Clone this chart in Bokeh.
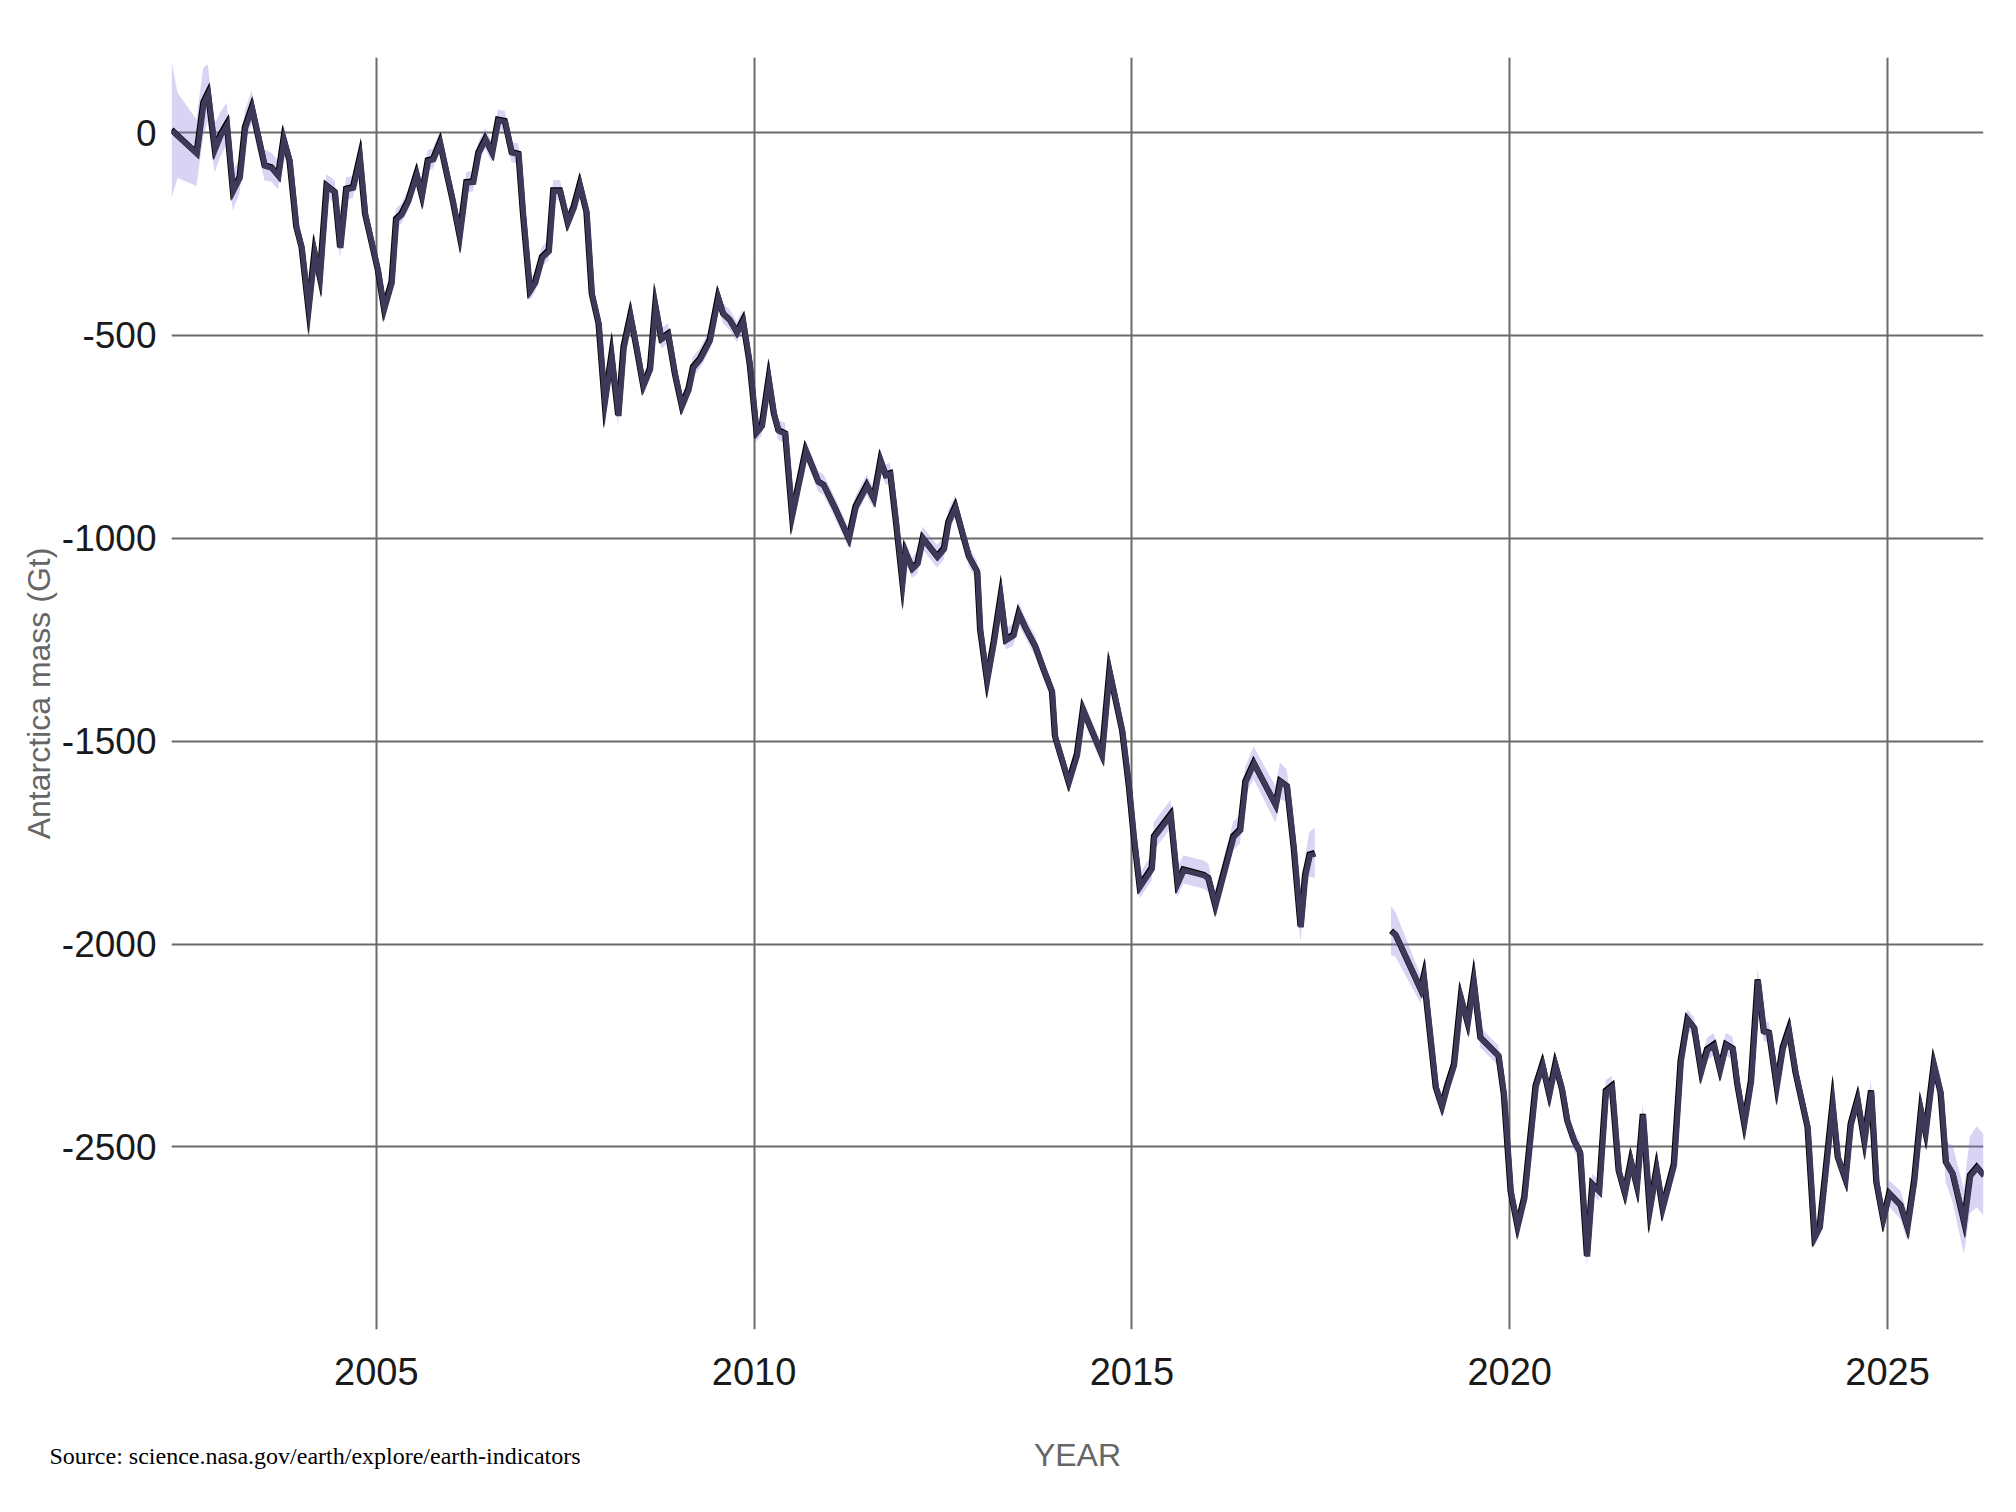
import numpy as np
from bokeh.plotting import figure
from bokeh.models import ColumnDataSource, FixedTicker, Range1d, Title
from bokeh.embed import file_html
from bokeh.resources import INLINE

# ---- data ----
grace_year = [2002.29, 2002.37, 2002.62, 2002.71, 2002.77, 2002.86, 2002.93, 2003.02, 2003.10, 2003.19,
              2003.26, 2003.35, 2003.52, 2003.61, 2003.70, 2003.77, 2003.85, 2003.94, 2004.01, 2004.10,
              2004.18, 2004.25, 2004.34, 2004.45, 2004.52, 2004.60, 2004.69, 2004.78, 2004.85, 2004.93,
              2005.02, 2005.10, 2005.20, 2005.26, 2005.33, 2005.42, 2005.53, 2005.60, 2005.68, 2005.75,
              2005.84, 2005.95, 2006.01, 2006.10, 2006.19, 2006.28, 2006.35, 2006.44, 2006.53, 2006.61,
              2006.70, 2006.79, 2006.88, 2006.94, 2007.03, 2007.10, 2007.19, 2007.28, 2007.34, 2007.43,
              2007.53, 2007.61, 2007.69, 2007.78, 2007.85, 2007.94, 2008.02, 2008.11, 2008.20, 2008.27,
              2008.36, 2008.44, 2008.53, 2008.62, 2008.69, 2008.77, 2008.86, 2008.95, 2009.04, 2009.13,
              2009.19, 2009.28, 2009.41, 2009.52, 2009.59, 2009.68, 2009.77, 2009.85, 2009.94, 2010.03,
              2010.10, 2010.19, 2010.26, 2010.32, 2010.41, 2010.50, 2010.68, 2010.77, 2010.85, 2010.92,
              2011.07, 2011.25, 2011.34, 2011.49, 2011.58, 2011.67, 2011.74, 2011.80, 2011.87, 2011.96,
              2012.00, 2012.09, 2012.16, 2012.23, 2012.42, 2012.51, 2012.57, 2012.66, 2012.75, 2012.84,
              2012.95, 2012.99, 2013.08, 2013.17, 2013.26, 2013.33, 2013.43, 2013.50, 2013.59, 2013.72,
              2013.83, 2013.94, 2013.98, 2014.16, 2014.27, 2014.35, 2014.60, 2014.70, 2014.87, 2014.96,
              2015.02, 2015.10, 2015.26, 2015.29, 2015.51, 2015.60, 2015.68, 2015.95, 2016.01, 2016.10,
              2016.34, 2016.43, 2016.50, 2016.61, 2016.90, 2016.96, 2017.05, 2017.14, 2017.23, 2017.29,
              2017.35, 2017.42]
grace_mass = [7, -7, -50, 75, 98, -39, -7, 22, -142, -109,
              14, 63, -80, -85, -105, -15, -68, -232, -282, -433,
              -294, -355, -130, -146, -282, -138, -134, -60, -200, -265,
              -339, -433, -368, -212, -200, -167, -101, -154, -68, -64,
              -23, -117, -167, -253, -122, -120, -48, -15, -48, 32,
              29, -48, -52, -200, -388, -368, -306, -290, -142, -142,
              -220, -183, -127, -195, -397, -470, -663, -548, -696, -528,
              -450, -528, -622, -581, -425, -507, -495, -594, -672, -631,
              -577, -557, -511, -405, -446, -462, -491, -462, -569, -737,
              -721, -606, -692, -733, -741, -942, -782, -823, -860, -868,
              -925, -999, -921, -868, -901, -807, -843, -839, -950, -1106,
              -1032, -1073, -1060, -999, -1044, -1024, -958, -921, -983, -1044,
              -1081, -1225, -1348, -1253, -1143, -1249, -1237, -1184, -1220, -1266,
              -1323, -1376, -1487, -1600, -1532, -1421, -1532, -1326, -1474, -1614,
              -1730, -1857, -1812, -1734, -1680, -1849, -1816, -1829, -1837, -1903,
              -1734, -1717, -1598, -1553, -1656, -1598, -1610, -1763, -1956, -1829,
              -1779, -1775]
grace_unc = [168, 105, 82, 85, 70, 60, 55, 52, 50, 42,
             40, 40, 38, 36, 35, 38, 32, 28, 27, 30,
             28, 28, 28, 28, 28, 28, 27, 27, 26, 26,
             25, 25, 25, 25, 25, 25, 25, 25, 25, 25,
             25, 25, 25, 25, 25, 25, 25, 25, 25, 25,
             25, 25, 25, 25, 25, 25, 25, 25, 25, 25,
             25, 25, 25, 25, 25, 25, 25, 25, 25, 25,
             25, 25, 25, 25, 25, 25, 25, 25, 25, 25,
             25, 25, 25, 25, 25, 25, 25, 25, 25, 25,
             25, 25, 25, 25, 25, 25, 25, 25, 25, 25,
             25, 25, 25, 25, 25, 25, 25, 25, 25, 25,
             25, 25, 28, 28, 28, 28, 28, 28, 25, 25,
             25, 25, 25, 25, 25, 25, 28, 28, 25, 25,
             25, 25, 25, 25, 25, 25, 25, 25, 25, 25,
             30, 30, 32, 35, 35, 35, 35, 35, 35, 35,
             35, 35, 35, 40, 45, 45, 40, 35, 40, 45,
             55, 62]

fo_year = [2018.43, 2018.49, 2018.82, 2018.86, 2019.02, 2019.10, 2019.17, 2019.26, 2019.35, 2019.44,
           2019.52, 2019.61, 2019.85, 2019.92, 2020.01, 2020.10, 2020.19, 2020.34, 2020.43, 2020.52,
           2020.60, 2020.69, 2020.76, 2020.85, 2020.93, 2021.02, 2021.09, 2021.18, 2021.27, 2021.35,
           2021.44, 2021.52, 2021.60, 2021.68, 2021.76, 2021.85, 2021.94, 2022.02, 2022.17, 2022.26,
           2022.35, 2022.44, 2022.53, 2022.61, 2022.70, 2022.78, 2022.86, 2022.95, 2023.01, 2023.10,
           2023.19, 2023.28, 2023.36, 2023.43, 2023.53, 2023.61, 2023.69, 2023.78, 2023.94, 2024.03,
           2024.10, 2024.27, 2024.34, 2024.44, 2024.51, 2024.60, 2024.69, 2024.78, 2024.85, 2024.94,
           2025.02, 2025.17, 2025.26, 2025.35, 2025.44, 2025.50, 2025.61, 2025.70, 2025.77, 2025.86,
           2026.01, 2026.09, 2026.18, 2026.27]
fo_mass = [-1967, -1977, -2111, -2078, -2353, -2398, -2349, -2296, -2131, -2193,
           -2090, -2230, -2275, -2369, -2608, -2694, -2624, -2349, -2296, -2369,
           -2296, -2357, -2435, -2484, -2513, -2768, -2591, -2608, -2361, -2349,
           -2558, -2612, -2534, -2595, -2419, -2653, -2554, -2649, -2542, -2287,
           -2185, -2206, -2312, -2259, -2247, -2308, -2247, -2257, -2345, -2441,
           -2337, -2087, -2214, -2218, -2349, -2255, -2210, -2316, -2451, -2721,
           -2696, -2394, -2525, -2578, -2443, -2382, -2484, -2361, -2586, -2676,
           -2614, -2643, -2696, -2582, -2410, -2463, -2296, -2365, -2537, -2565,
           -2684, -2569, -2549, -2569]
fo_unc = [60, 55, 35, 30, 28, 28, 25, 25, 25, 25,
          25, 25, 25, 25, 25, 25, 25, 25, 25, 25,
          25, 25, 25, 25, 25, 25, 25, 25, 25, 25,
          25, 25, 25, 25, 25, 25, 25, 25, 25, 25,
          25, 25, 28, 28, 28, 28, 28, 28, 25, 25,
          25, 25, 25, 25, 25, 25, 25, 25, 25, 25,
          25, 25, 25, 25, 25, 25, 25, 25, 25, 25,
          32, 35, 35, 30, 30, 30, 35, 40, 50, 70,
          80, 95, 100, 100]

x_ticks = [2005, 2010, 2015, 2020, 2025]
y_ticks = [0, -500, -1000, -1500, -2000, -2500]
y_tick_labels = ["0", "-500", "-1000", "-1500", "-2000", "-2500"]
source_text = "Source: science.nasa.gov/earth/explore/earth-indicators"

# ---- styles ----
BAND = "#8a76de"
LINE = "#3f3858"
GRID = "#6a6a6a"
FONT = "Liberation Sans"

p = figure(width=2000, height=1496, output_backend="svg", toolbar_location=None,
           x_range=Range1d(grace_year[0], fo_year[-1]), y_range=Range1d(-2950, 185),
           min_border_left=171, min_border_right=17, min_border_top=57, min_border_bottom=167)
p.outline_line_color = None
p.background_fill_color = "white"

for yrs, ms, us in [(grace_year, grace_mass, grace_unc), (fo_year, fo_mass, fo_unc)]:
    x = np.array(yrs, dtype=float)
    m = np.array(ms, dtype=float)
    u = np.array(us, dtype=float)
    src = ColumnDataSource(dict(x=x, lo=m - u, hi=m + u, m=m,
                                xs=x + 0.009, ms=m - 2.5))
    p.varea(x="x", y1="lo", y2="hi", source=src, fill_color=BAND, fill_alpha=0.32)
    p.line(x="x", y="m", source=src, line_color="black", line_width=6, line_join="miter")
    p.line(x="xs", y="ms", source=src, line_color=LINE, line_width=5.5, line_join="miter")

p.xaxis.ticker = FixedTicker(ticks=x_ticks)
p.yaxis.ticker = FixedTicker(ticks=y_ticks)
p.yaxis.major_label_overrides = {t: s for t, s in zip(y_ticks, y_tick_labels)}
p.xgrid.ticker = FixedTicker(ticks=x_ticks)
p.ygrid.ticker = FixedTicker(ticks=y_ticks)
for g in (p.xgrid, p.ygrid):
    g.grid_line_color = GRID
    g.grid_line_width = 2
    g.grid_line_alpha = 1.0

for ax in (p.xaxis, p.yaxis):
    ax.axis_line_color = None
    ax.major_tick_line_color = None
    ax.minor_tick_line_color = None
    ax.major_tick_in = 0
    ax.major_tick_out = 0
    ax.major_label_text_font = FONT
    ax.major_label_text_color = "#1a1a1a"
    ax.axis_label_text_font = FONT
    ax.axis_label_text_font_size = "32px"
    ax.axis_label_text_font_style = "normal"
    ax.axis_label_text_color = "#666666"
p.xaxis.major_label_text_font_size = "38px"
p.yaxis.major_label_text_font_size = "37px"

p.xaxis.axis_label = "YEAR"
p.yaxis.axis_label = "Antarctica mass (Gt)"
p.xaxis.major_label_standoff = 28
p.yaxis.major_label_standoff = 15
p.xaxis.axis_label_standoff = 49
p.yaxis.axis_label_standoff = 2

src_title = Title(text=source_text, align="left", offset=-122, standoff=-65,
                  vertical_align="top",
                  text_font="Liberation Serif", text_font_size="24px",
                  text_font_style="normal", text_color="black")
p.add_layout(src_title, "below")

open("out.html", "w").write(file_html(p, INLINE))
